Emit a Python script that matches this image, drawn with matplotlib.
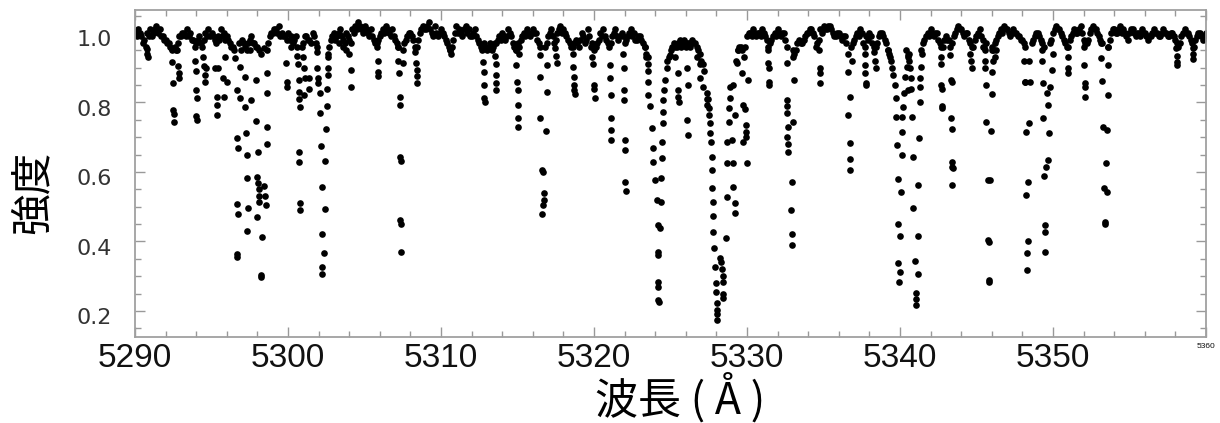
import numpy as np
import matplotlib
matplotlib.use('Agg')
import matplotlib.pyplot as plt
from matplotlib.ticker import MultipleLocator
from matplotlib.transforms import ScaledTranslation


# continuum samples: start wavelength, step and read-off intensities (nan = inside a line core)
CONT_START = 5290.0
CONT_STEP = 0.2
nan = np.nan
cont_flux = [
    1.00, 1.01, 0.99, 0.98, 1.00,   # 5290
    1.01, 1.00, 1.02, 1.01, 0.99,   # 5291
    0.98, 0.97, 0.95, 0.96, 0.97,   # 5292
    0.99, 1.00, 1.01, 1.00, 0.98,   # 5293
    0.97, 0.99, 0.96, 1.00, 1.01,   # 5294
    1.00, 0.98, 0.99, 1.01, 1.00,   # 5295
    0.99, 0.97, 0.96, nan, 0.97,    # 5296
    0.98, 0.96, 0.97, 0.99, 0.97,   # 5297
    0.96, 0.94, nan, 0.95, 0.99,    # 5298
    1.00, 1.01, 1.02, 1.00, 0.99,   # 5299
    1.00, 0.99, 0.98, 0.96, nan,    # 5300
    0.97, 0.99, 0.98, 1.00, 0.97,   # 5301
    nan, nan, nan, 0.94, 0.98,      # 5302
    1.00, 0.99, 1.01, 0.98, 1.00,   # 5303
    0.98, 1.01, 1.02, 1.03, 1.01,   # 5304
    1.02, 1.00, 1.01, 0.98, 0.97,   # 5305
    0.99, 1.01, 1.02, 1.00, 1.01,   # 5306
    0.98, 0.96, nan, 0.97, 0.99,    # 5307
    1.00, 0.98, 0.96, 1.00, 1.02,   # 5308
    1.01, 1.03, 1.00, 1.02, 0.99,   # 5309
    1.01, 0.99, 0.97, 0.95, 0.98,   # 5310
    1.02, 1.01, 0.99, 1.02, 1.01,   # 5311
    0.99, 1.01, 0.98, 0.96, 0.97,   # 5312
    0.95, 0.97, 0.96, 0.97, 0.99,   # 5313
    1.00, 0.98, 1.01, 0.99, 0.96,   # 5314
    0.97, 0.98, 1.00, 1.01, 0.99,   # 5315
    1.01, 1.00, 0.97, nan, 0.96,    # 5316
    0.99, 1.01, 0.97, 1.00, 1.02,   # 5317
    1.01, 0.99, 0.97, 0.96, 0.98,   # 5318
    0.96, 1.00, 0.97, 1.01, 0.96,   # 5319
    0.95, 0.97, 1.00, 1.01, 0.98,   # 5320
    0.96, 0.99, 1.01, 0.98, 1.00,   # 5321
    0.97, 0.99, 1.01, 1.00, 0.98,   # 5322
    0.99, 0.97, 0.94, nan, nan,     # 5323
    nan, nan, nan, nan, 0.92,       # 5324
    0.95, 0.97, 0.96, 0.98, 0.97,   # 5325
    0.96, 0.97, 0.98, 0.97, 0.95,   # 5326
    0.92, 0.89, nan, nan, nan,      # 5327
    nan, nan, nan, nan, nan,        # 5328
    nan, nan, 0.95, 0.96, 0.93,     # 5329
    0.99, 1.00, 1.01, 0.99, 1.00,   # 5330
    1.01, 0.99, 0.96, 0.98, 1.00,   # 5331
    1.01, 0.99, 1.00, 0.96, nan,    # 5332
    0.93, 0.95, 0.98, 0.97, 0.99,   # 5333
    1.00, 1.01, 0.99, 0.97, 1.01,   # 5334
    1.02, 1.01, 1.02, 1.00, 0.99,   # 5335
    1.00, 0.98, 0.99, nan, 0.96,    # 5336
    0.98, 1.00, 1.01, 0.97, 0.99,   # 5337
    1.00, 0.97, 0.96, 0.99, 1.00,   # 5338
    0.98, 0.95, 0.92, nan, nan,     # 5339
    nan, nan, 0.95, 0.94, nan,      # 5340
    nan, nan, 0.95, 0.98, 1.00,     # 5341
    1.01, 0.99, 1.00, 0.97, 0.96,   # 5342
    0.99, 0.98, 0.97, 1.00, 1.02,   # 5343
    1.01, 0.99, 1.00, 0.97, 0.96,   # 5344
    0.99, 1.01, 0.98, 0.97, nan,    # 5345
    0.96, 0.97, 0.99, 1.01, 1.02,   # 5346
    1.01, 0.99, 1.01, 1.00, 0.99,   # 5347
    0.98, 0.96, nan, 0.97, 0.99,    # 5348
    1.00, 0.98, 0.96, nan, 0.97,    # 5349
    1.00, 1.02, 1.01, 0.99, 0.97,   # 5350
    0.96, 0.99, 1.01, 1.00, 1.02,   # 5351
    0.98, 0.97, 1.00, 1.02, 1.01,   # 5352
    0.99, 0.97, nan, 0.96, 1.00,    # 5353
    1.01, 1.00, 1.02, 1.01, 0.99,   # 5354
    1.00, 1.01, 0.99, 1.00, 1.01,   # 5355
    1.00, 0.98, 0.99, 1.01, 1.00,   # 5356
    0.99, 1.01, 1.00, 0.99, 1.00,   # 5357
    0.98, 0.96, 0.99, 1.01, 1.00,   # 5358
    0.98, 0.96, 0.99, 1.00, 0.98,   # 5359
    1.00,                           # 5360
]

# second continuum read-off, half a step later (5290.1, 5290.3, ...)
cont_flux_b = [
    0.99, 1.00, 0.97, 0.96, 0.99,   # 5290
    0.99, 1.01, 1.00, 0.99, 0.98,   # 5291
    0.97, 0.96, nan, 0.95, 0.99,    # 5292
    1.00, 0.99, 0.99, 0.98, 0.96,   # 5293
    0.98, 0.97, 0.98, 0.99, 0.99,   # 5294
    0.99, 0.97, 0.98, 0.99, 0.98,   # 5295
    0.98, 0.96, 0.95, nan, 0.95,    # 5296
    0.97, 0.95, 0.98, 0.97, 0.96,   # 5297
    0.95, nan, nan, 0.97, 1.00,     # 5298
    1.01, 1.00, 0.99, 0.99, 0.98,   # 5299
    0.98, 0.97, 0.99, nan, 0.96,    # 5300
    0.99, 0.98, 0.97, 0.99, 0.96,   # 5301
    nan, nan, nan, 0.96, 0.99,      # 5302
    0.98, 1.00, 0.99, 0.97, 0.99,   # 5303
    0.97, 1.00, 1.01, 1.02, 1.00,   # 5304
    1.01, 0.99, 0.99, 0.97, 0.98,   # 5305
    1.00, 1.00, 1.01, 0.99, 0.99,   # 5306
    0.97, nan, nan, 0.98, 1.00,     # 5307
    0.99, 0.96, 0.98, 1.01, 1.01,   # 5308
    1.02, 1.01, 0.99, 1.00, 1.00,   # 5309
    1.00, 0.98, 0.96, 0.96, 1.00,   # 5310
    1.00, 1.00, 1.01, 1.00, 0.99,   # 5311
    1.00, 0.99, 0.97, 0.95, 0.96,   # 5312
    0.96, 0.95, 0.97, 0.98, 0.98,   # 5313
    0.99, 0.99, 1.00, 0.97, 0.95,   # 5314
    0.96, 0.99, 0.99, 1.00, 1.00,   # 5315
    1.00, 0.98, 0.96, nan, 0.97,    # 5316
    1.00, 0.99, 0.98, 1.01, 1.00,   # 5317
    1.00, 0.98, 0.96, 0.97, 0.97,   # 5318
    0.98, 0.99, 0.98, 0.99, 0.97,   # 5319
    0.96, 0.98, 0.99, 0.99, 0.97,   # 5320
    0.97, 1.00, 0.99, 0.99, 0.99,   # 5321
    0.98, 1.00, 0.99, 0.98, 0.99,   # 5322
    0.98, 0.96, 0.93, nan, nan,     # 5323
    nan, nan, nan, nan, 0.93,       # 5324
    0.96, 0.96, 0.97, 0.96, 0.98,   # 5325
    0.97, 0.96, 0.97, 0.96, 0.94,   # 5326
    0.91, nan, nan, nan, nan,       # 5327
    nan, nan, nan, nan, nan,        # 5328
    nan, 0.92, 0.96, 0.95, 0.96,    # 5329
    1.00, 0.99, 1.00, 1.00, 0.99,   # 5330
    1.00, 0.98, 0.97, 0.99, 0.99,   # 5331
    1.00, 1.00, 0.98, nan, nan,     # 5332
    0.94, 0.97, 0.97, 0.98, 1.00,   # 5333
    1.01, 1.00, 0.96, 0.98, 1.00,   # 5334
    1.01, 1.02, 1.01, 0.99, 1.00,   # 5335
    0.99, 0.99, 0.97, nan, 0.97,    # 5336
    0.99, 0.99, 1.00, 0.96, 0.98,   # 5337
    0.99, 0.96, 0.97, 1.00, 0.99,   # 5338
    0.97, 0.94, nan, nan, nan,      # 5339
    nan, nan, 0.93, nan, nan,       # 5340
    nan, nan, 0.97, 0.99, 0.99,     # 5341
    1.00, 1.00, 0.98, 0.96, 0.98,   # 5342
    0.98, nan, 0.99, 1.01, 1.01,    # 5343
    1.00, 1.00, 0.98, 0.96, 0.98,   # 5344
    1.00, 0.99, 0.96, nan, nan,     # 5345
    0.95, 0.98, 1.00, 1.00, 1.01,   # 5346
    1.00, 1.00, 1.00, 0.99, 0.98,   # 5347
    0.97, nan, nan, 0.98, 1.00,     # 5348
    0.99, 0.97, nan, nan, 0.98,     # 5349
    1.01, 1.01, 1.00, 0.98, 0.96,   # 5350
    0.98, 1.00, 1.00, 1.01, 1.00,   # 5351
    0.97, 0.98, 1.01, 1.01, 1.00,   # 5352
    0.98, nan, nan, 0.98, 1.01,     # 5353
    1.00, 1.01, 1.00, 1.00, 0.98,   # 5354
    1.01, 1.00, 1.00, 0.99, 1.00,   # 5355
    0.99, 0.99, 1.00, 1.00, 0.99,   # 5356
    1.00, 1.00, 0.99, 1.00, 0.99,   # 5357
    0.97, 0.97, 1.00, 1.00, 0.99,   # 5358
    0.97, 0.98, 1.00, 0.99, 0.99,   # 5359
]

# dots inside the absorption lines (wavelength / intensity, one row per line)
line_wave = [
    5290.75, 5290.80, 5290.85,
    5292.40, 5292.42, 5292.45, 5292.50, 5292.52, 5292.55, 5292.75, 5292.80, 5292.85, 5292.90,
    5293.95, 5293.97, 5294.00, 5294.02, 5294.00, 5294.02,
    5294.45, 5294.50, 5294.55, 5294.60, 5294.65,
    5295.23, 5295.34, 5295.34, 5295.34, 5295.45, 5295.75, 5295.80, 5296.00, 5295.85,
    5296.54, 5296.65, 5296.65, 5296.75, 5296.65, 5296.75, 5296.65, 5296.68, 5296.86, 5296.86,
    5297.19, 5297.19, 5297.25, 5297.30, 5297.30, 5297.40, 5297.33, 5297.52, 5297.56,
    5297.90, 5297.90, 5298.06, 5297.95, 5298.06, 5298.08, 5298.10, 5298.12, 5297.95, 5298.28, 5298.21, 5298.24,
    5298.45, 5298.50, 5298.55, 5298.60, 5298.60, 5298.62, 5298.60, 5298.40,
    5299.85, 5299.90, 5299.95, 5300.20,
    5300.60, 5300.65, 5300.70, 5300.72, 5300.72, 5300.75, 5300.70, 5300.72, 5300.75, 5300.77,
    5301.00, 5301.05, 5301.10, 5301.05, 5301.40, 5301.40,
    5301.87, 5301.87, 5301.98, 5301.98, 5302.09, 5302.09, 5302.16, 5302.20, 5302.24, 5302.24,
    5302.24, 5302.37, 5302.42, 5302.42, 5302.46, 5302.53, 5302.53, 5302.60, 5302.63, 5302.63,
    5303.30, 5303.60, 5303.80, 5304.00, 5304.10, 5304.12,
    5305.80, 5305.85, 5305.88, 5305.90,
    5307.20, 5307.22, 5307.25, 5307.30, 5307.32, 5307.35, 5307.37, 5307.35, 5307.37, 5307.40, 5307.50, 5307.52,
    5308.30, 5308.35, 5308.40, 5308.40, 5308.42,
    5310.60, 5310.65,
    5312.70, 5312.75, 5312.80, 5312.80, 5312.82, 5312.85,
    5313.55, 5313.58, 5313.60, 5313.62, 5313.62,
    5314.90, 5314.92, 5314.95, 5315.00, 5315.00, 5315.02, 5315.03, 5315.10,
    5316.47, 5316.47, 5316.47, 5316.60, 5316.65, 5316.70, 5316.70, 5316.68, 5316.62, 5316.90, 5316.90, 5316.85,
    5317.45, 5317.50, 5317.55,
    5318.65, 5318.65, 5318.70, 5318.70, 5318.72, 5318.75,
    5319.90, 5319.95, 5320.00, 5320.00, 5320.05,
    5321.05, 5321.07, 5321.10, 5321.10, 5321.12, 5321.12,
    5321.90, 5321.93, 5321.95, 5321.98, 5322.00, 5322.05, 5322.05, 5322.08,
    5323.30, 5323.40, 5323.50, 5323.55, 5323.55, 5323.55, 5323.66, 5323.81, 5323.88, 5323.88,
    5323.99, 5324.10, 5324.16, 5324.16, 5324.18, 5324.20, 5324.20, 5324.20, 5324.22,
    5324.31, 5324.38, 5324.38, 5324.42, 5324.47, 5324.49, 5324.53, 5324.53, 5324.60, 5324.64, 5324.75, 5324.97,
    5325.30, 5325.51, 5325.51, 5325.50, 5325.53, 5326.06, 5326.17, 5326.06, 5326.17,
    5326.70, 5326.90, 5326.93, 5327.14, 5327.36, 5327.36, 5327.38,
    5327.47, 5327.54, 5327.54, 5327.58, 5327.58, 5327.63, 5327.69, 5327.69, 5327.73, 5327.76,
    5327.80, 5327.80, 5327.84, 5327.91, 5327.97, 5327.97, 5328.02, 5328.02, 5328.03, 5328.04,
    5328.24, 5328.30, 5328.34, 5328.40, 5328.45, 5328.45, 5328.40, 5328.63,
    5328.67, 5328.71, 5328.71, 5328.84, 5328.84, 5328.89, 5328.89, 5329.10,
    5329.00, 5329.10, 5329.10, 5329.22, 5329.22, 5329.22, 5329.33, 5329.43, 5329.65,
    5329.76, 5329.87, 5329.93, 5329.93, 5329.93, 5329.76, 5330.02, 5330.09,
    5331.40, 5331.40, 5331.42, 5331.42, 5331.44,
    5332.59, 5332.59, 5332.62, 5332.64, 5332.70, 5332.64, 5332.66, 5332.66,
    5332.92, 5332.85, 5332.92, 5332.92, 5333.03, 5333.07, 5333.03,
    5334.70, 5334.75, 5334.78, 5334.80,
    5336.62, 5336.62, 5336.73, 5336.62, 5336.73, 5336.73, 5336.73, 5336.84,
    5337.70, 5337.72, 5337.74, 5337.76, 5337.78,
    5338.30, 5338.35, 5338.40,
    5339.24, 5339.35, 5339.45, 5339.56, 5339.67, 5339.72, 5339.72, 5339.78, 5339.85, 5339.85, 5339.89, 5340.00, 5339.95,
    5340.00, 5340.07, 5340.11, 5340.11, 5340.15, 5340.22, 5340.28, 5340.33, 5340.44, 5340.54, 5340.60, 5340.65, 5340.70,
    5340.54, 5340.72, 5340.80, 5340.87, 5340.87, 5340.98, 5341.02, 5341.02, 5341.03,
    5341.15, 5341.15, 5341.20, 5341.24, 5341.31, 5341.31, 5341.31, 5341.37, 5341.42,
    5342.65, 5342.68, 5342.70, 5342.72, 5342.75, 5342.77,
    5343.30, 5343.30, 5343.35, 5343.40, 5343.35, 5343.42, 5343.40, 5343.42, 5343.44, 5343.42,
    5344.60, 5344.65, 5344.70,
    5345.40, 5345.56, 5345.56, 5345.56, 5345.62, 5345.62, 5345.77, 5345.77, 5345.80, 5345.84,
    5345.84, 5345.88, 5345.92, 5345.99, 5345.99, 5346.10, 5346.00, 5346.20, 5346.30,
    5348.10, 5348.17, 5348.20, 5348.24, 5348.24, 5348.28, 5348.32, 5348.39, 5348.39, 5348.45, 5348.50, 5348.45,
    5349.26, 5349.26, 5349.32, 5349.36, 5349.41, 5349.48, 5349.48, 5349.48,
    5349.54, 5349.69, 5349.59, 5349.69, 5349.76, 5349.80, 5349.91, 5349.98,
    5350.95, 5351.00, 5351.00,
    5352.00, 5352.05, 5352.10, 5352.10, 5352.12,
    5353.14, 5353.14, 5353.18, 5353.29, 5353.44, 5353.35, 5353.40, 5353.42, 5353.51, 5353.51, 5353.57, 5353.57, 5353.62,
    5358.05, 5358.08, 5358.10, 5358.10,
    5359.15, 5359.17, 5359.18,
]
line_flux = [
    0.955, 0.940, 0.930,
    0.955, 0.917, 0.856, 0.778, 0.768, 0.744, 0.950, 0.905, 0.885, 0.870,
    0.920, 0.890, 0.836, 0.813, 0.762, 0.750,
    0.930, 0.905, 0.880, 0.860, 0.900,
    0.900, 0.816, 0.793, 0.764, 0.900, 0.870, 0.816, 0.860, 0.930,
    0.928, 0.836, 0.698, 0.669, 0.508, 0.479, 0.364, 0.355, 0.902, 0.813,
    0.873, 0.787, 0.712, 0.650, 0.583, 0.496, 0.430, 0.950, 0.807,
    0.865, 0.747, 0.658, 0.586, 0.568, 0.550, 0.530, 0.513, 0.470, 0.413, 0.303, 0.297,
    0.560, 0.530, 0.505, 0.885, 0.827, 0.730, 0.680, 0.957,
    0.913, 0.860, 0.845, 0.960,
    0.935, 0.910, 0.865, 0.830, 0.810, 0.787, 0.658, 0.630, 0.510, 0.490,
    0.930, 0.900, 0.870, 0.820, 0.870, 0.840,
    0.945, 0.900, 0.870, 0.856, 0.827, 0.770, 0.675, 0.557, 0.420, 0.327,
    0.307, 0.367, 0.494, 0.632, 0.724, 0.790, 0.840, 0.880, 0.900, 0.930,
    0.970, 0.960, 0.950, 0.940, 0.893, 0.845,
    0.960, 0.920, 0.888, 0.875,
    0.960, 0.920, 0.885, 0.816, 0.793, 0.643, 0.632, 0.462, 0.450, 0.370, 0.913, 0.950,
    0.945, 0.913, 0.893, 0.875, 0.856,
    0.950, 0.940,
    0.960, 0.917, 0.888, 0.850, 0.813, 0.800,
    0.935, 0.910, 0.879, 0.855, 0.836,
    0.950, 0.907, 0.860, 0.836, 0.793, 0.755, 0.730, 0.940,
    0.937, 0.873, 0.755, 0.606, 0.600, 0.540, 0.520, 0.505, 0.479, 0.908, 0.830, 0.718,
    0.957, 0.935, 0.913,
    0.940, 0.902, 0.873, 0.850, 0.835, 0.825,
    0.930, 0.910, 0.850, 0.840, 0.813,
    0.908, 0.870, 0.820, 0.755, 0.720, 0.692,
    0.940, 0.900, 0.836, 0.807, 0.692, 0.663, 0.570, 0.545,
    0.960, 0.930, 0.910, 0.890, 0.860, 0.820, 0.790, 0.726, 0.670, 0.630,
    0.577, 0.520, 0.447, 0.370, 0.360, 0.283, 0.270, 0.232, 0.225,
    0.440, 0.513, 0.583, 0.640, 0.686, 0.741, 0.773, 0.807, 0.836, 0.865, 0.900, 0.937,
    0.930, 0.885, 0.836, 0.815, 0.800, 0.900, 0.850, 0.750, 0.706,
    0.930, 0.910, 0.870, 0.845, 0.827, 0.810, 0.793,
    0.810, 0.784, 0.765, 0.741, 0.712, 0.686, 0.643, 0.606, 0.554, 0.513,
    0.473, 0.427, 0.380, 0.327, 0.280, 0.255, 0.223, 0.203, 0.190, 0.174,
    0.353, 0.340, 0.320, 0.300, 0.283, 0.237, 0.250, 0.410,
    0.528, 0.626, 0.686, 0.744, 0.784, 0.813, 0.845, 0.850,
    0.692, 0.626, 0.557, 0.510, 0.482, 0.764, 0.913, 0.950, 0.885,
    0.793, 0.780, 0.735, 0.715, 0.700, 0.686, 0.626, 0.865,
    0.950, 0.913, 0.900, 0.860, 0.850,
    0.913, 0.807, 0.790, 0.770, 0.730, 0.700, 0.680, 0.658,
    0.570, 0.490, 0.420, 0.390, 0.744, 0.865, 0.950,
    0.950, 0.900, 0.885, 0.856,
    0.940, 0.888, 0.816, 0.764, 0.683, 0.637, 0.606, 0.920,
    0.940, 0.908, 0.885, 0.856, 0.850,
    0.945, 0.920, 0.900,
    0.950, 0.930, 0.900, 0.880, 0.850, 0.813, 0.758, 0.678, 0.580, 0.450, 0.338, 0.312, 0.283,
    0.416, 0.542, 0.650, 0.715, 0.758, 0.787, 0.827, 0.873, 0.902, 0.937, 0.920, 0.900, 0.870,
    0.836, 0.840, 0.758, 0.643, 0.496, 0.344, 0.252, 0.235, 0.217,
    0.306, 0.416, 0.563, 0.698, 0.800, 0.845, 0.870, 0.902, 0.940,
    0.930, 0.910, 0.850, 0.840, 0.790, 0.784,
    0.960, 0.937, 0.865, 0.860, 0.755, 0.724, 0.630, 0.615, 0.610, 0.563,
    0.940, 0.920, 0.900,
    0.960, 0.950, 0.920, 0.900, 0.850, 0.744, 0.577, 0.404, 0.398, 0.290,
    0.283, 0.577, 0.718, 0.825, 0.888, 0.920, 0.950, 0.930, 0.950,
    0.920, 0.860, 0.860, 0.715, 0.534, 0.367, 0.318, 0.400, 0.570, 0.741, 0.860, 0.920,
    0.950, 0.920, 0.856, 0.755, 0.589, 0.447, 0.427, 0.370,
    0.614, 0.635, 0.827, 0.793, 0.712, 0.845, 0.893, 0.940,
    0.930, 0.900, 0.885,
    0.960, 0.908, 0.855, 0.845, 0.816,
    0.970, 0.928, 0.862, 0.730, 0.626, 0.554, 0.456, 0.450, 0.542, 0.720, 0.820, 0.908, 0.960,
    0.957, 0.935, 0.915, 0.908,
    0.957, 0.940, 0.925,
]

x_ticks = [5290, 5300, 5310, 5320, 5330, 5340, 5350, 5360]
y_ticks = [0.2, 0.4, 0.6, 0.8, 1.0]

CJK = ['Noto Sans CJK JP', 'DejaVu Sans']


def graf():
    '''draws the spectrum as black dots'''

    assert len(line_wave) == len(line_flux)
    cont_wave = CONT_START + CONT_STEP * np.arange(len(cont_flux))
    cont_wave_b = CONT_START + CONT_STEP / 2 + CONT_STEP * np.arange(len(cont_flux_b))

    fig = plt.figure(figsize=(12.2, 4.23), dpi=100)
    ax = fig.add_axes([0.1107, 0.2033, 0.8778, 0.7731])

    #continuum and line dots
    dot = dict(color='black', markersize=4.8, markeredgewidth=0, linestyle='none', marker='o')
    ax.plot(cont_wave, cont_flux, **dot)
    ax.plot(cont_wave_b, cont_flux_b, **dot)
    ax.plot(line_wave, line_flux, **dot)

    ax.set_xlim(5290, 5360)
    ax.set_ylim(0.125, 1.066)

    #ticks inside, on every side
    ax.xaxis.set_minor_locator(MultipleLocator(2))
    ax.yaxis.set_minor_locator(MultipleLocator(0.05))
    ax.tick_params(which='both', direction='in', top=True, right=True, color='#999999')
    ax.tick_params(which='major', length=7, width=1)
    ax.tick_params(which='minor', length=4, width=1)
    ax.tick_params(axis='x', pad=4)
    ax.tick_params(axis='y', pad=17)

    ax.set_xticks(x_ticks)
    ax.set_xticklabels([str(t) for t in x_ticks], fontsize=24, family='Liberation Sans', color='#111111')
    ax.get_xticklabels()[-1].set_fontsize(6)
    ax.set_yticks(y_ticks)
    ax.set_yticklabels(['%.1f' % t for t in y_ticks], fontsize=16, color='#333333')
    shift = ScaledTranslation(0, -4 / 72, fig.dpi_scale_trans)
    for lab in ax.get_yticklabels():
        lab.set_transform(lab.get_transform() + shift)

    for sp in ax.spines.values():
        sp.set_color('#a0a0a0')
        sp.set_linewidth(1.3)

    #axis labels
    ax.set_xlabel('波長 ( Å )', fontsize=31, family=CJK, va='center')
    ax.xaxis.set_label_coords(0.509, -0.187)
    ax.set_ylabel('強度', fontsize=30, family=CJK, va='center')
    ax.yaxis.set_label_coords(-0.095, 0.443)

    fig.savefig('out.png', dpi=100)


def main():
    graf()


if __name__ == '__main__':
    main()
